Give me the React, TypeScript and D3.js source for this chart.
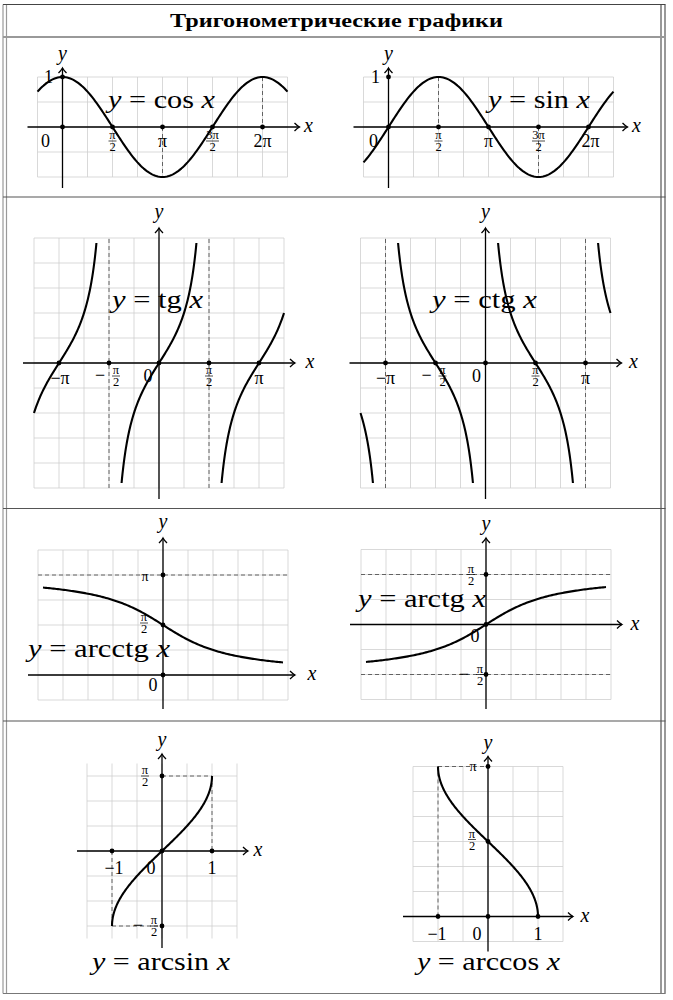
import React from "react";
import * as d3 from "d3";

const PI = Math.PI;
const TG_CLIP = Math.atan(2.4); // |tg x| = 2.4 here, where the branches are cut
const CTG_CLIP = Math.atan(1 / 2.4);

// ---- values ----
const title = "Тригонометрические графики";

const cosDomain = [-PI / 4, (9 * PI) / 4];
const cosDots = [[0, 1], [0, 0], [PI / 2, 0], [PI, 0], [(3 * PI) / 2, 0], [2 * PI, 0]];
const cosLabels = ["1", "0", "π/2", "π", "3π/2", "2π"];
const cosDashed = [[[PI, 0], [PI, -1]], [[2 * PI, 1], [2 * PI, 0]]];

const sinDomain = [-PI / 4, (9 * PI) / 4];
const sinDots = [[0, 1], [0, 0], [PI / 2, 0], [PI, 0], [(3 * PI) / 2, 0], [2 * PI, 0]];
const sinLabels = ["1", "0", "π/2", "π", "3π/2", "2π"];
const sinDashed = [[[PI / 2, 1], [PI / 2, 0]], [[(3 * PI) / 2, 0], [(3 * PI) / 2, -1]]];

const tgBranches = [[(-5 * PI) / 4, TG_CLIP - PI], [-TG_CLIP, TG_CLIP], [PI - TG_CLIP, (5 * PI) / 4]];
const tgDots = [[-PI, 0], [-PI / 2, 0], [0, 0], [PI / 2, 0], [PI, 0]];
const tgLabels = ["−π", "−π/2", "0", "π/2", "π"];
const tgDashed = [[[-PI / 2, -2.5], [-PI / 2, 2.5]], [[PI / 2, -2.5], [PI / 2, 2.5]]];

const ctgBranches = [
  [(-5 * PI) / 4, -PI - CTG_CLIP],
  [-PI + CTG_CLIP, -CTG_CLIP],
  [CTG_CLIP, PI - CTG_CLIP],
  [PI + CTG_CLIP, (5 * PI) / 4],
];
const ctgDots = [[-PI, 0], [-PI / 2, 0], [0, 0], [PI / 2, 0], [PI, 0]];
const ctgLabels = ["−π", "−π/2", "0", "π/2", "π"];
const ctgDashed = [[[-PI, -2.5], [-PI, 2.5]], [[PI, -2.5], [PI, 2.5]]];

const arcctgDomain = [-2.4, 2.4];
const arcctgDots = [[0, PI], [0, PI / 2], [0, 0]];
const arcctgLabels = ["π", "π/2", "0"];
const arcctgDashed = [[[-2.5, PI], [2.5, PI]]];

const arctgDomain = [-2.4, 2.4];
const arctgDots = [[0, PI / 2], [0, 0], [0, -PI / 2]];
const arctgLabels = ["π/2", "0", "−π/2"];
const arctgDashed = [[[-2.5, PI / 2], [2.5, PI / 2]], [[-2.5, -PI / 2], [2.5, -PI / 2]]];

const arcsinRange = [-PI / 2, PI / 2];
const arcsinDots = [[0, PI / 2], [-1, 0], [0, 0], [1, 0], [0, -PI / 2]];
const arcsinLabels = ["π/2", "−1", "0", "1", "−π/2"];
const arcsinDashed = [
  [[-1, 0], [-1, -PI / 2]], [[-1, -PI / 2], [0, -PI / 2]],
  [[0, PI / 2], [1, PI / 2]], [[1, PI / 2], [1, 0]],
];

const arccosRange = [0, PI];
const arccosDots = [[0, PI], [0, PI / 2], [-1, 0], [0, 0], [1, 0]];
const arccosLabels = ["π", "π/2", "−1", "0", "1"];
const arccosDashed = [[[-1, 0], [-1, PI]], [[-1, PI], [0, PI]]];

// ---- sampling of the plotted functions ----
const sample = (f, [a, b], n = 160) => d3.range(n + 1).map((i) => {
  const t = a + ((b - a) * i) / n;
  return [t, f(t)];
});
const sampleInv = (f, [a, b], n = 160) => d3.range(n + 1).map((i) => {
  const t = a + ((b - a) * i) / n;
  return [f(t), t];
});

const FONT = "'Liberation Serif', 'DejaVu Serif', serif";
const CELL = 25;

const panels = [
  {
    ox: 62.5, oy: 127, xStep: PI / 4, yStep: 0.5,
    xGrid: [-PI / 4, (9 * PI) / 4], yLines: [-1, 1], yExt: [-1, 1],
    axX: [-35, 237], axY: [61, -59], xLab: 246, yLab: -71,
    curves: [sample(Math.cos, cosDomain)], dashed: cosDashed, dots: cosDots, labels: cosLabels,
    place: [[-14, 6], [-17, 20], [0, 14], [0, 20], [0, 14], [0, 20]],
    formula: ["cos", 108, 108, 107],
  },
  {
    ox: 388.5, oy: 127, xStep: PI / 4, yStep: 0.5,
    xGrid: [-PI / 4, (9 * PI) / 4], yLines: [-1, 1], yExt: [-1, 1],
    axX: [-35, 239], axY: [61, -59], xLab: 248, yLab: -71,
    curves: [sample(Math.sin, sinDomain)], dashed: sinDashed, dots: sinDots, labels: sinLabels,
    place: [[-13, 6], [-15, 20], [0, 14], [0, 20], [0, 14], [2, 20]],
    formula: ["sin", 488, 108, 102],
  },
  {
    ox: 159, oy: 363, xStep: PI / 4, yStep: 0.5,
    xGrid: [(-5 * PI) / 4, (5 * PI) / 4], yLines: [-2.5, 2.5], yExt: [-2.5, 2.5],
    axX: [-136, 136], axY: [136, -135], xLab: 151, yLab: -149,
    curves: tgBranches.map((d) => sample(Math.tan, d)), dashed: tgDashed, dots: tgDots, labels: tgLabels,
    place: [[1, 21], [7, 13], [-11, 19], [0, 13], [0, 21]],
    formula: ["tg", 112, 308, 91],
  },
  {
    ox: 485.5, oy: 363, xStep: PI / 4, yStep: 0.5,
    xGrid: [(-5 * PI) / 4, (5 * PI) / 4], yLines: [-2.5, 2.5], yExt: [-2.5, 2.5],
    axX: [-136, 136], axY: [136, -135], xLab: 148, yLab: -149,
    curves: ctgBranches.map((d) => sample((t) => 1 / Math.tan(t), d)), dashed: ctgDashed, dots: ctgDots, labels: ctgLabels,
    place: [[0, 21], [7, 13], [-9, 19], [0, 13], [0, 21]],
    formula: ["ctg", 432, 308, 105],
  },
  {
    ox: 163, oy: 675, xStep: 0.5, yStep: PI / 4,
    xGrid: [-2.5, 2.5], yLines: [-PI / 4, (5 * PI) / 4], yExt: [-PI / 4, (5 * PI) / 4],
    axX: [-135, 132], axY: [34, -137], xLab: 149, yLab: -151,
    curves: [sample((t) => PI / 2 - Math.atan(t), arcctgDomain)], dashed: arcctgDashed, dots: arcctgDots, labels: arcctgLabels,
    place: [[-18, 6, true], [-19, -2], [-10, 16]],
    formula: ["arcctg", 28, 657, 142],
  },
  {
    ox: 486, oy: 624.5, xStep: 0.5, yStep: PI / 4,
    xGrid: [-2.5, 2.5], yLines: [(-3 * PI) / 4, (3 * PI) / 4], yExt: [(-3 * PI) / 4, (3 * PI) / 4],
    axX: [-136, 136], axY: [84.5, -86.5], xLab: 149, yLab: -99,
    curves: [sample(Math.atan, arctgDomain)], dashed: arctgDashed, dots: arctgDots, labels: arctgLabels,
    place: [[-15, 0], [-11, 17], [-6, 0]],
    formula: ["arctg", 358, 607, 128],
  },
  {
    ox: 162, oy: 851, xStep: 0.5, yStep: PI / 6,
    xGrid: [-1.5, 1.5], yLines: [-PI / 2, PI / 2], yExt: [(-7 * PI) / 12, (7 * PI) / 12],
    axX: [-85, 86], axY: [97, -97], xLab: 96, yLab: -109,
    curves: [sampleInv(Math.sin, arcsinRange)], dashed: arcsinDashed, dots: arcsinDots, labels: arcsinLabels,
    place: [[-17, 0], [2, 23], [-11, 23], [0, 23], [-8, 0]],
    formula: ["arcsin", 92, 970, 138],
  },
  {
    ox: 488, oy: 916.5, xStep: 0.5, yStep: PI / 6,
    xGrid: [-1.5, 1.5], yLines: [-PI / 6, PI], yExt: [-PI / 6, PI],
    axX: [-85, 85], axY: [35, -160], xLab: 97, yLab: -172,
    curves: [sampleInv(Math.cos, arccosRange)], dashed: arccosDashed, dots: arccosDots, labels: arccosLabels,
    place: [[-15, 4, true], [-16, -2], [-1, 23], [-11, 23], [0, 23]],
    formula: ["arccos", 417, 970, 143],
  },
];

const steps = ([a, b], s) =>
  d3.range(Math.round(a / s), Math.round(b / s) + 1).map((i) => i * s);

function Label({ text, x, y, small }) {
  if (text.includes("/")) {
    let [num, den] = text.split("/");
    const neg = num.startsWith("−");
    if (neg) num = num.slice(1);
    const w = num.length > 1 ? 13 : 8;
    return (
      <g fontFamily={FONT} textAnchor="middle">
        {neg && <text x={x - 16} y={y + 5} fontSize={18}>−</text>}
        <text x={x} y={y - 2} fontSize={12.5}>{num}</text>
        <line x1={x - w / 2} x2={x + w / 2} y1={y} y2={y} stroke="#000" strokeWidth={0.7} />
        <text x={x} y={y + 10} fontSize={12.5}>{den}</text>
      </g>
    );
  }
  return (
    <text x={x} y={y} fontFamily={FONT} fontSize={small ? 14 : 18} textAnchor="middle">
      {text}
    </text>
  );
}

function Panel({ p }) {
  const x = d3.scaleLinear().domain([0, p.xStep]).range([p.ox, p.ox + CELL]);
  const y = d3.scaleLinear().domain([0, p.yStep]).range([p.oy, p.oy - CELL]);
  const line = d3.line().x((d) => x(d[0])).y((d) => y(d[1]));
  const vx = steps(p.xGrid, p.xStep);
  const hy = steps(p.yLines, p.yStep);
  const [x0, x1] = p.xGrid.map(x);
  const [y0, y1] = p.yExt.map(y);
  const tx = p.ox + p.axX[1];
  const ty = p.oy + p.axY[1];
  const [fname, fx, fy, fw] = p.formula;

  return (
    <g>
      <g stroke="#cfcfcf" strokeWidth={0.8}>
        {vx.map((v, i) => <line key={"v" + i} x1={x(v)} x2={x(v)} y1={y0} y2={y1} />)}
        {hy.map((v, i) => <line key={"h" + i} x1={x0} x2={x1} y1={y(v)} y2={y(v)} />)}
      </g>
      <g stroke="#555" strokeWidth={0.9} strokeDasharray="4 3">
        {p.dashed.map((d, i) => <path key={i} d={line(d)} />)}
      </g>
      <g stroke="#000" strokeWidth={1.3} fill="none">
        <line x1={p.ox + p.axX[0]} x2={tx} y1={p.oy} y2={p.oy} />
        <path d={`M${tx - 5},${p.oy - 4} Q${tx - 2},${p.oy - 1} ${tx},${p.oy} Q${tx - 2},${p.oy + 1} ${tx - 5},${p.oy + 4}`} />
        <line x1={p.ox} x2={p.ox} y1={p.oy + p.axY[0]} y2={ty} />
        <path d={`M${p.ox - 4},${ty + 5} Q${p.ox - 1},${ty + 2} ${p.ox},${ty} Q${p.ox + 1},${ty + 2} ${p.ox + 4},${ty + 5}`} />
      </g>
      <g stroke="#000" strokeWidth={2.1} fill="none" strokeLinejoin="round">
        {p.curves.map((c, i) => <path key={i} d={line(c)} />)}
      </g>
      {p.dots.map((d, i) => <circle key={i} cx={x(d[0])} cy={y(d[1])} r={2.4} fill="#000" />)}
      {p.labels.map((t, i) => {
        const [dx, dy, small] = p.place[i];
        return <Label key={i} text={t} x={x(p.dots[i][0]) + dx} y={y(p.dots[i][1]) + dy} small={small} />;
      })}
      <text x={tx + (p.xLab - p.axX[1])} y={p.oy + 5} fontFamily={FONT} fontStyle="italic" fontSize={20} textAnchor="middle">x</text>
      <text x={p.ox} y={p.oy + p.yLab + 4} fontFamily={FONT} fontStyle="italic" fontSize={20} textAnchor="middle">y</text>
      <text x={fx} y={fy} fontFamily={FONT} fontSize={25} textLength={fw} lengthAdjust="spacingAndGlyphs">
        <tspan fontStyle="italic">y</tspan>
        <tspan>{" = " + fname + " "}</tspan>
        <tspan fontStyle="italic">x</tspan>
      </text>
    </g>
  );
}

export default function App() {
  const rows = [37, 197, 508.5, 721];
  return (
    <svg width={673} height={1000} style={{ position: "absolute", left: 0, top: 0, background: "#fff" }}>
      <rect width={673} height={1000} fill="#fff" />
      {/* table frame */}
      <g fill="none">
        <line x1={3} x2={3} y1={4.5} y2={993.5} stroke="#999" strokeWidth={1.2} />
        <line x1={6.5} x2={6.5} y1={4.5} y2={993.5} stroke="#999" strokeWidth={1.2} />
        <line x1={661} x2={661} y1={4.5} y2={993.5} stroke="#555" strokeWidth={1.2} />
        <line x1={665} x2={665} y1={4.5} y2={993.5} stroke="#555" strokeWidth={1.2} />
        <line x1={3} x2={665.5} y1={4.5} y2={4.5} stroke="#444" strokeWidth={1.2} />
        <line x1={3} x2={665.5} y1={993.5} y2={993.5} stroke="#777" strokeWidth={1.2} />
        {rows.map((r, i) => (
          <line key={i} x1={3} x2={665.5} y1={r} y2={r} stroke={i === 0 ? "#999" : "#555"} strokeWidth={i === 0 ? 2 : 1.2} />
        ))}
      </g>
      <text x={336.5} y={27} fontFamily={FONT} fontWeight="bold" fontSize={18} textAnchor="middle" textLength={333} lengthAdjust="spacingAndGlyphs">
        {title}
      </text>
      {panels.map((p, i) => <Panel key={i} p={p} />)}
    </svg>
  );
}
